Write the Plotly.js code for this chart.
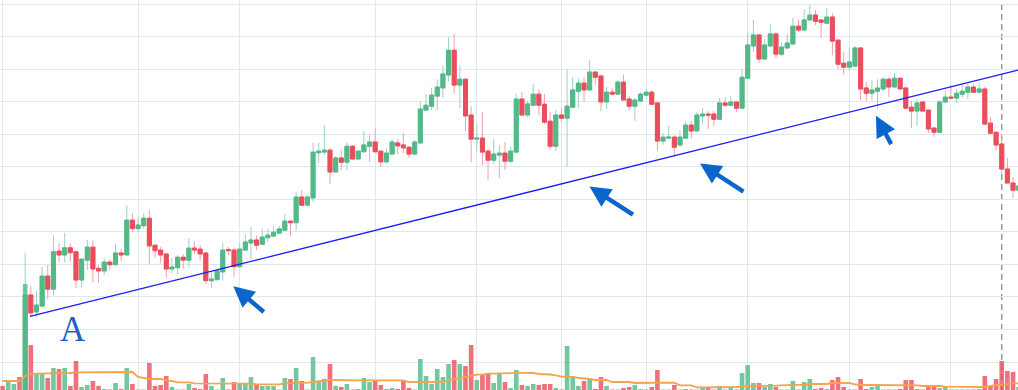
<!DOCTYPE html>
<html>
<head>
<meta charset="utf-8">
<script src="https://cdn.plot.ly/plotly-3.0.1.min.js"></script>
<style>html,body{margin:0;padding:0;background:#fff}#chart{width:1018px;height:390px}</style>
</head>
<body>
<div id="chart"></div>
<script>
// ---- data ----
const open = [-18,-20,-18,-16,-5,30.6,25.4,27.2,36.4,32.4,
44.1,42.9,45.1,43.9,35.2,41.3,45.3,38.8,38.0,40.7,
39.9,43.5,42.9,53.6,51.0,51.9,54.2,45.9,44.4,43.2,
38.6,39.0,42.2,41.3,45.0,44.7,43.5,35.0,35.3,37.7,
44.6,44.4,39.3,44.4,46.6,47.5,46.2,48.2,48.7,49.6,
50.5,53.3,52.8,60.7,58.2,60.4,74.3,74.5,75.1,68.4,
72.7,71.4,76.3,72.4,74.6,76.3,77.6,74.8,71.5,73.9,
77.3,76.7,76.0,73.9,77.3,87.4,88.6,91.7,94.2,98.2,
105.8,95.1,96.9,85.9,78.5,78.8,74.8,72.0,73.6,74.2,
71.7,74.5,90.8,85.9,88.9,92.3,89.2,84.0,76.3,85.9,
84.9,88.3,93.2,95.7,93.6,99.1,97.9,89.9,92.9,92.3,
96.0,90.8,88.6,90.2,92.0,92.9,89.6,77.9,78.8,79.1,
76.7,78.8,82.8,81.0,85.6,86.2,86.2,84.6,89.6,88.9,
89.9,88.0,97.2,107.1,110.5,103.1,107.1,110.8,104.6,106.5,
107.7,113.2,112.0,115.1,116.6,115.1,114.1,116.0,108.9,101.8,
100.6,100.9,106.5,94.2,92.6,93.2,93.9,96.9,94.5,97.2,
94.2,88.3,87.1,89.9,87.4,81.9,80.6,89.9,91.4,91.1,
92.3,92.9,94.5,92.9,93.9,83.4,80.6,77.0,69.3,65.0,
62.8];
const high = [-17,-17,-15,-15,43.6,33.3,31.9,39.3,39.8,49.0,
46.5,49.7,46.5,44.1,41.9,47.5,47.3,39.8,41.8,41.6,
46.2,44.9,58.2,55.7,54.6,55.7,56.7,45.9,45.4,43.2,
42.0,42.9,43.1,48.0,46.9,45.9,43.5,37.7,38.3,46.6,
45.4,45.2,46.6,49.3,51.5,48.9,50.9,50.9,51.8,51.8,
55.5,53.3,62.3,62.8,61.3,77.4,77.4,82.8,75.6,73.3,
74.9,77.4,76.7,74.8,81.0,80.0,81.8,74.8,75.6,78.5,
78.5,80.3,76.4,78.2,90.0,92.3,94.3,96.9,101.2,109.8,
110.8,101.2,96.9,88.6,83.1,86.8,75.4,78.5,76.7,77.6,
76.3,92.3,92.9,90.2,95.4,93.9,92.3,86.8,87.4,88.0,
100.0,97.5,97.2,97.5,102.8,99.1,97.9,94.5,94.2,96.6,
98.2,91.7,91.1,92.9,93.9,93.6,89.6,80.3,82.5,79.7,
81.3,84.0,84.0,86.8,88.0,87.1,87.1,91.1,91.4,91.7,
89.9,100.0,111.1,115.1,110.5,109.2,113.8,111.4,108.3,110.8,
115.7,115.4,118.4,119.7,118.1,115.1,118.7,117.2,108.9,105.2,
106.8,107.1,106.5,96.0,96.6,96.9,97.5,97.5,98.8,97.2,
94.2,90.2,90.8,89.9,87.4,81.9,90.5,93.2,95.1,93.9,
95.1,95.4,95.4,95.7,94.5,85.3,80.6,80.0,72.7,66.8,
67.8];
const low = [-21,-21,-19,-19,-6,23.9,23.9,27.0,29.3,30.4,
40.5,40.5,40.8,32.8,32.8,38.3,34.4,34.4,36.7,38.3,
39.9,41.0,42.9,49.9,50.0,50.8,40.1,42.2,40.3,35.9,
37.2,37.0,38.8,39.1,43.2,41.1,34.0,32.8,35.3,35.0,
42.9,36.2,39.3,44.4,41.5,44.4,46.2,46.9,48.5,49.6,
50.5,48.7,50.5,57.9,58.2,59.2,71.2,73.6,64.7,68.4,
69.0,69.0,72.0,72.0,74.4,71.5,74.6,70.0,71.0,73.6,
73.9,74.1,72.8,73.4,77.3,87.4,87.4,87.4,91.2,96.3,
92.6,88.0,81.0,71.4,74.8,70.5,65.9,70.8,66.5,69.0,
71.1,74.5,85.9,85.3,88.9,85.9,83.1,75.4,74.8,83.7,
69.9,88.3,88.0,89.9,93.6,95.1,87.1,87.7,92.3,92.0,
90.5,87.4,84.0,90.2,92.0,89.2,75.1,76.7,78.8,72.9,
76.0,78.8,78.8,81.0,83.1,81.6,82.5,84.6,88.3,88.9,
86.8,88.0,97.2,105.2,101.8,103.1,107.1,103.4,104.0,106.5,
107.7,111.4,112.0,115.1,113.5,109.5,114.1,104.3,100.0,98.2,
99.7,100.6,90.5,90.2,90.5,87.7,93.2,91.4,94.5,93.9,
87.7,81.9,82.5,87.1,80.3,79.1,80.6,89.9,91.1,89.6,
91.1,90.8,92.9,92.9,83.1,80.3,75.1,67.7,65.0,60.4,
62.8];
const close = [-20,-18,-16,-18,30.6,25.1,27.5,36.4,32.4,43.9,
42.9,45.1,43.6,35.2,41.6,45.3,38.6,38.0,40.7,39.9,
43.5,42.9,53.6,51.0,52.1,54.2,45.7,44.2,42.9,38.6,
39.2,42.2,41.3,45.0,44.4,43.2,35.0,35.5,38.0,44.4,
44.2,39.3,44.7,46.9,47.5,45.9,48.4,49.0,49.9,50.9,
53.3,52.8,60.7,58.2,60.7,74.5,74.8,75.1,68.4,72.7,
71.4,76.3,72.4,74.8,76.7,77.6,74.6,71.5,74.2,77.6,
76.4,75.8,73.9,77.6,87.7,88.9,92.0,94.5,98.5,105.8,
95.1,96.9,85.6,78.5,78.8,74.5,72.0,73.9,74.2,71.7,
74.8,90.8,85.9,89.3,92.3,88.9,83.7,76.3,85.9,84.9,
88.6,93.6,95.7,93.6,99.1,97.5,89.9,92.9,92.3,96.0,
90.5,88.6,90.5,92.3,92.9,89.2,77.9,79.1,79.1,76.0,
79.1,82.8,81.0,85.9,86.2,85.9,84.6,89.6,88.9,89.9,
88.0,97.5,107.4,110.5,103.1,107.4,110.8,104.6,106.8,108.0,
113.2,112.0,115.1,116.6,114.7,114.4,116.0,108.6,101.5,100.6,
102.2,106.5,93.9,92.6,93.6,94.2,96.9,94.5,97.2,93.9,
88.0,87.1,89.6,87.1,81.6,80.6,89.9,91.4,91.1,92.6,
93.2,94.5,92.9,93.9,83.1,80.3,76.7,69.3,65.0,62.8,
64.1];
const volume = [4,8,6,13,106,45,17,16,12,22,
21,22,4,29,3,5,9,4,1,0.5,
7,1,22,6,0.5,0.5,27,4,5,14,
3,0.5,0.5,6,2,1,16,4,0.5,12,
0.5,8,6,6,13,5,4,4,4,0.5,
12,11,22,9,0.5,33,9,11,26,4,
3,6,0.5,1,12,8,10,5,1,2,
1,10,2,0.5,31,14,6,21,13,26,
30,26,24,45,10,15,16,7,16,8,
2,20,5,4,6,5,6,6,2,0.5,
44,14,4,9,11,1,13,4,0.5,0.5,
2,3,5,1,0.5,3,20,0.5,0.5,5,
0.5,1,0.5,0.5,3,3,0.5,4,0.5,3,
0.5,17,25,7,7,3,6,3,0.5,0.5,
9,0.5,8,11,1,2,1,10,13,3,
0.5,0.5,11,1,3,6,0.5,0.5,0.5,1,
10,10,1,0.5,4,5,2,4,0.5,0.5,
0.5,0.5,0.5,1,14,4,11,29,19,18,
3];
const volumeMA = [9,9,9,9,14,15.7,16.3,16.3,16.3,16.7,
16.7,17,17,17.7,17.7,17.7,17.7,18.3,18.3,18,
18,18,18,18,13,11.7,11,11,11,9.5,
9,7.7,7.7,7.7,6.7,6.7,6.7,6.7,6.7,6.7,
6.7,6.3,6.3,6.3,6.3,5.7,5.7,5.7,5.7,5.7,
6.7,6.7,6.7,6.7,7.3,8,8.7,8.7,10,10,
9.7,9.7,9.7,9.7,9.7,9.7,9.7,9.7,9.7,9.7,
9.7,9.7,8,8,8.7,8.7,8.7,8.7,8,10,
10.7,11.7,13,14.3,15.3,15.3,16.3,16.3,16.3,16.3,
16.8,17.3,17.3,17.3,17,16,16,15.5,14.7,13.3,
13.3,12.7,12,12,11,10,10,10,8,8,
8,8,7,7,7,7,7.3,7.3,7.3,7.3,
4.7,4.7,4.7,2.7,2.7,2.7,2.7,2.7,2.7,2.7,
3,3.7,3.7,4.3,4.3,4.3,4.3,4.3,4.7,4.7,
4.7,5.3,5.3,6,6,6,6,7,7,7,
7,5.5,5,5,5,5,5,5,5,5,
4.7,4.7,4.7,4,4,4.7,4,3.3,3.3,3.3,
3.3,3.3,3.3,3,3,4,4.7,5.7,6.7,6.7,
6.7];
const gridBars = [0, 24, 42, 66, 84, 99, 114, 132, 150, 168];
const priceGrid = [10, 20, 30, 40, 50, 60, 70, 80, 90, 100, 110, 120];
const trendLineX = [4.85, 179.88];
const trendLineY = [24.0, 99.7];
const crosshairBar = 177;
const arrowTipX = [40.87, 103.97, 123.54, 154.72];
const arrowTipY = [33.3, 63.9, 71.0, 85.7];
const labelText = 'A';

// ---- styling ----
const UP = '#53b987', DOWN = '#eb4d5c';
const WICK_UP = '#9fcfc8', WICK_DOWN = '#f2a0a9';
const GRID = '#dfe7ef';
const ARROW = '#0a66cc';
const arrowOffsets = [[32, 27], [45, 29], [45, 29], [16, 30]];

const bars = open.map((_, i) => i);
const bodyHigh = open.map((o, i) => Math.max(o, close[i]));
const bodyLow = open.map((o, i) => Math.min(o, close[i]));
const volColors = open.map((o, i) => close[i] >= o ? 'rgba(83,185,135,0.8)' : 'rgba(235,77,92,0.8)');

const traces = [
  { type: 'candlestick', x: bars, open: open, high: high, low: low, close: close,
    xaxis: 'x', yaxis: 'y', hoverinfo: 'skip', whiskerwidth: 0,
    increasing: { line: { color: WICK_UP, width: 1 }, fillcolor: WICK_UP },
    decreasing: { line: { color: WICK_DOWN, width: 1 }, fillcolor: WICK_DOWN } },
  { type: 'candlestick', x: bars, open: open, high: bodyHigh, low: bodyLow, close: close,
    xaxis: 'x', yaxis: 'y', hoverinfo: 'skip', whiskerwidth: 0,
    increasing: { line: { color: UP, width: 1 }, fillcolor: UP },
    decreasing: { line: { color: DOWN, width: 1 }, fillcolor: DOWN } },
  { type: 'bar', x: bars, y: volume, xaxis: 'x', yaxis: 'y2', hoverinfo: 'skip',
    marker: { color: volColors, line: { width: 0 } } },
  { type: 'scatter', mode: 'lines', x: bars, y: volumeMA, xaxis: 'x', yaxis: 'y2', hoverinfo: 'skip',
    line: { color: '#f6a34b', width: 1.8 } }
];

const annotations = arrowTipX.map((x, i) => ({
  x: x, y: arrowTipY[i], xref: 'x', yref: 'y', text: '', showarrow: true,
  ax: arrowOffsets[i][0], ay: arrowOffsets[i][1],
  arrowcolor: ARROW, arrowwidth: 4.4, arrowhead: 2, arrowsize: 0.95, standoff: 0
}));
annotations.push({
  x: 12.4, y: 20.1, xref: 'x', yref: 'y', text: labelText, showarrow: false,
  xanchor: 'center', yanchor: 'middle',
  font: { family: 'Liberation Serif, DejaVu Serif, serif', size: 35, color: '#1d63c4' }
});

const layout = {
  width: 1018, height: 390,
  margin: { l: 0, r: 0, t: 0, b: 0, pad: 0 },
  paper_bgcolor: '#ffffff', plot_bgcolor: '#ffffff',
  showlegend: false, hovermode: false,
  boxgap: 0.29, boxgroupgap: 0, bargap: 0.18,
  xaxis: { range: [-0.461, 179.88], tickmode: 'array', tickvals: gridBars,
    showgrid: true, gridcolor: GRID, gridwidth: 1, showticklabels: false, ticks: '',
    zeroline: false, showline: false, rangeslider: { visible: false }, fixedrange: true },
  yaxis: { range: [1.413, 121.23], tickmode: 'array', tickvals: priceGrid,
    showgrid: true, gridcolor: GRID, gridwidth: 1, showticklabels: false, ticks: '',
    zeroline: false, showline: false, fixedrange: true },
  yaxis2: { overlaying: 'y', range: [0, 390], visible: false, showgrid: false, zeroline: false, fixedrange: true },
  shapes: [
    { type: 'line', xref: 'x', yref: 'y', x0: trendLineX[0], y0: trendLineY[0], x1: trendLineX[1], y1: trendLineY[1],
      line: { color: '#1818ff', width: 1.3 }, layer: 'above' },
    { type: 'line', xref: 'x', yref: 'paper', x0: crosshairBar, x1: crosshairBar, y0: 0, y1: 1,
      line: { color: '#8a8d94', width: 1.3, dash: '6px,4px' }, layer: 'below' }
  ],
  annotations: annotations
};

Plotly.newPlot('chart', traces, layout, { staticPlot: true, displayModeBar: false });
</script>
</body>
</html>
